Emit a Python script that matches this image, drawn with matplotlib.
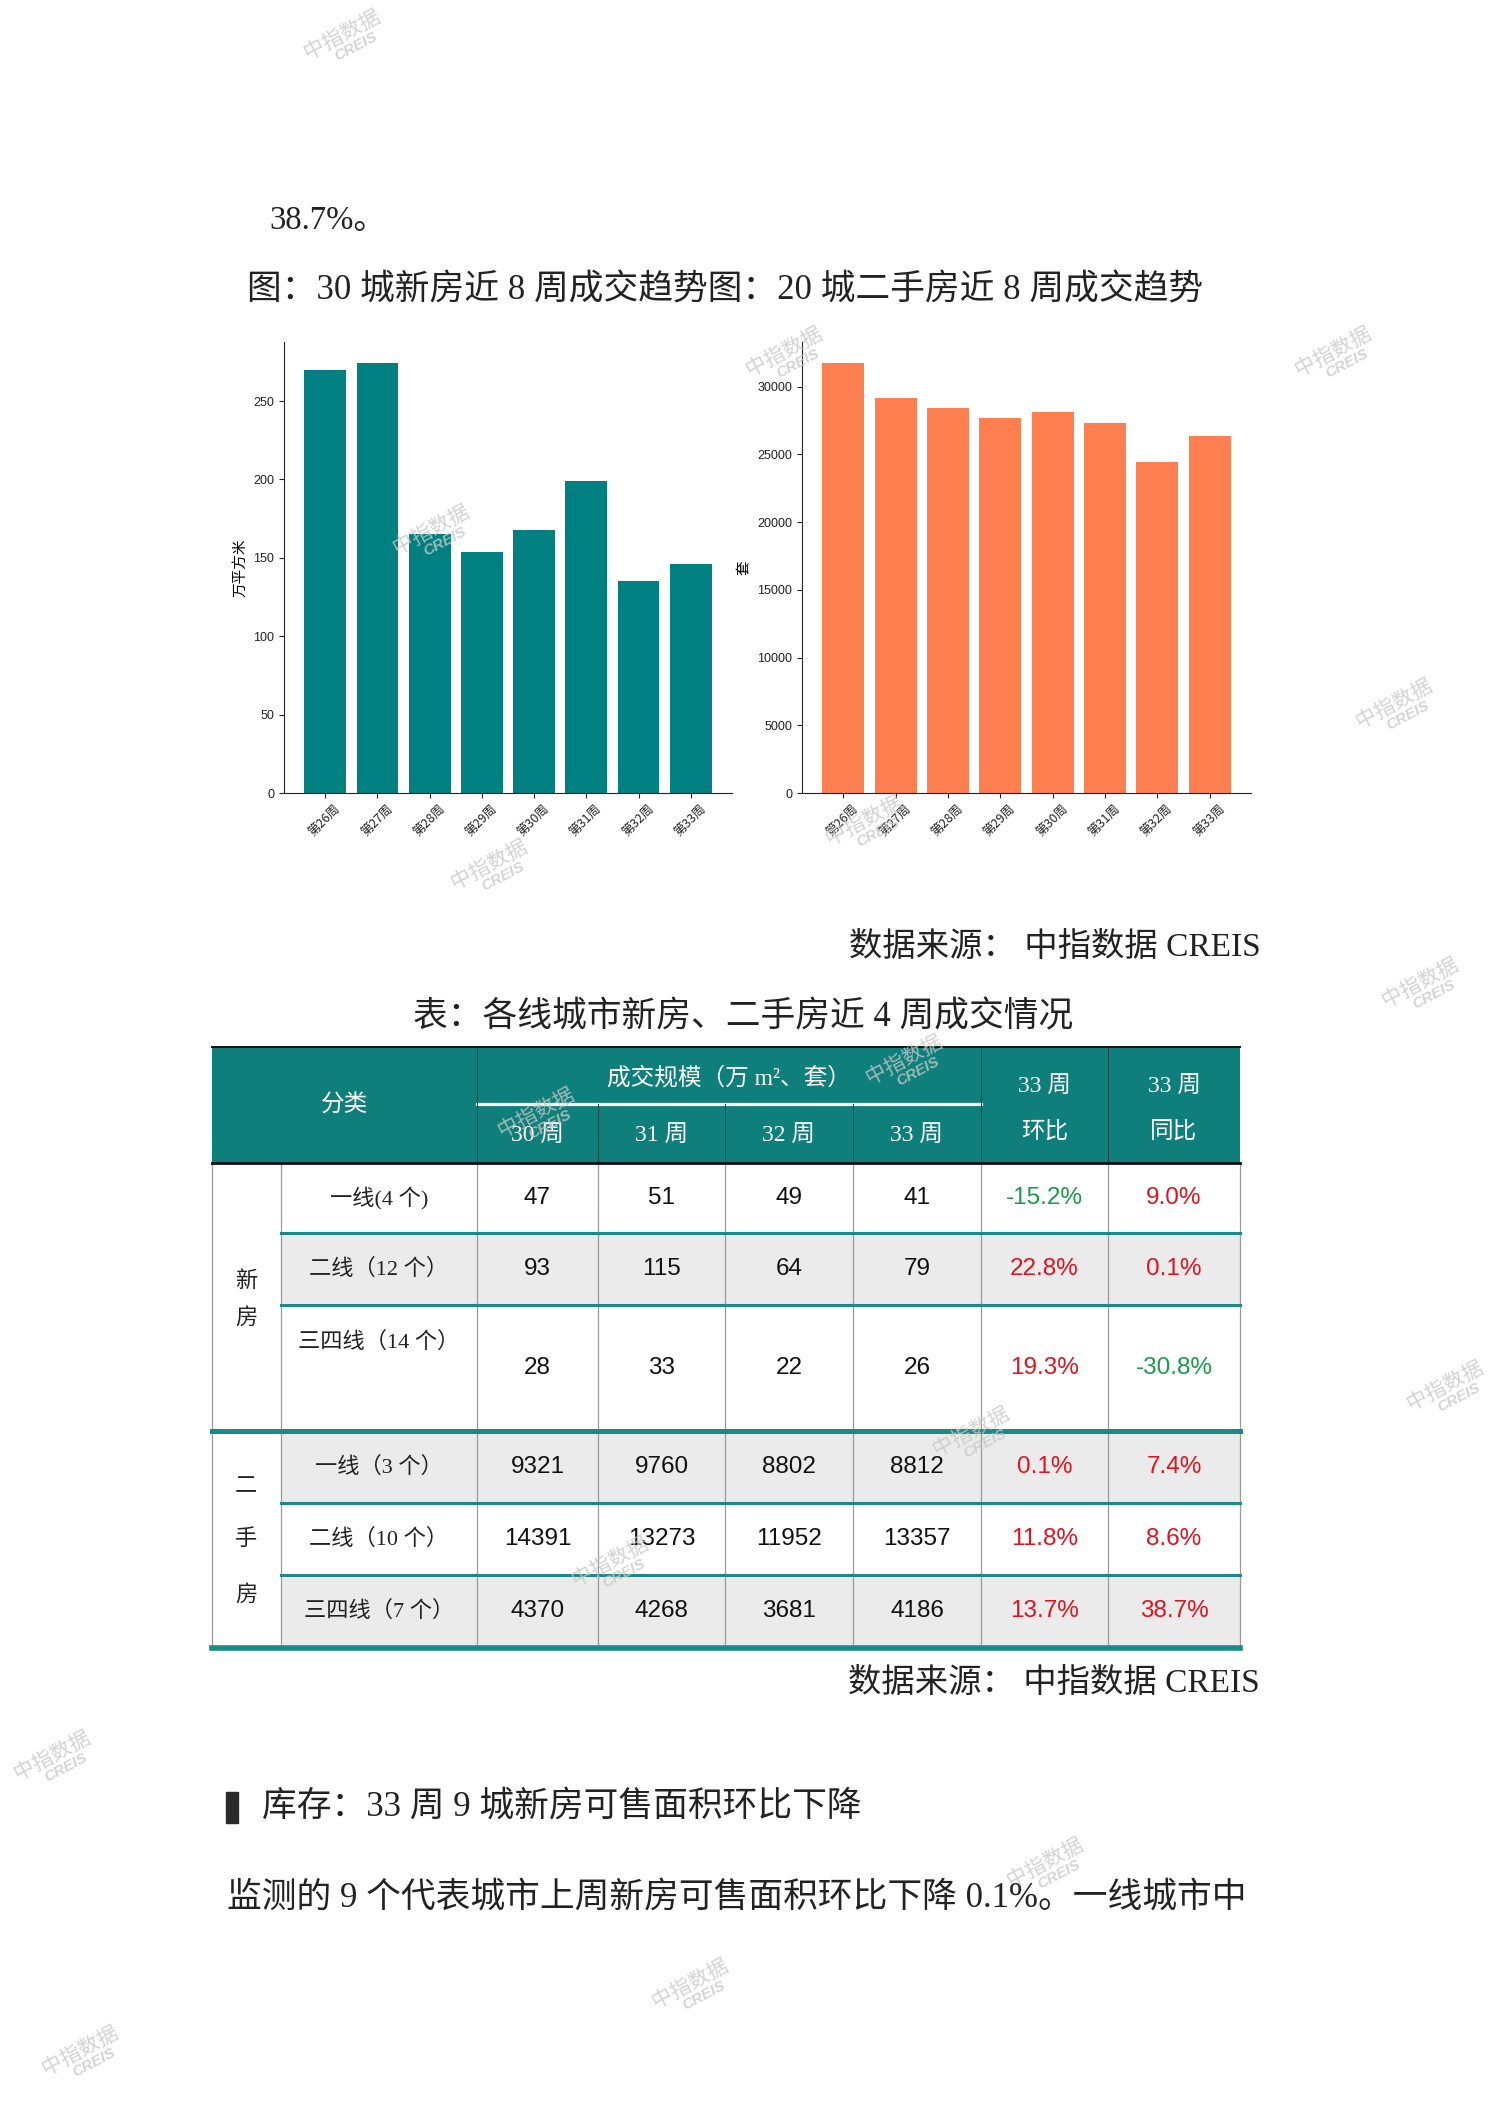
import matplotlib
matplotlib.use('Agg')
import matplotlib.pyplot as plt
from matplotlib.patches import Rectangle

plt.rcParams['font.family'] = ['Liberation Serif', 'Noto Sans CJK SC', 'DejaVu Sans']

# chart data
weeks = ['第26周', '第27周', '第28周', '第29周', '第30周', '第31周', '第32周', '第33周']
new_area = [270, 274, 165, 154, 168, 199, 135, 146]          # 万平方米
resale_units = [31700, 29140, 28390, 27670, 28082, 27301, 24435, 26355]  # 套

# table data
tab_weeks = ['30 周', '31 周', '32 周', '33 周']
new_labels = ['一线(4 个)', '二线（12 个）', '三四线（14 个）']
new_vals = [[47, 51, 49, 41], [93, 115, 64, 79], [28, 33, 22, 26]]
new_mom = ['-15.2%', '22.8%', '19.3%']
new_yoy = ['9.0%', '0.1%', '-30.8%']
resale_labels = ['一线（3 个）', '二线（10 个）', '三四线（7 个）']
resale_vals = [[9321, 9760, 8802, 8812], [14391, 13273, 11952, 13357], [4370, 4268, 3681, 4186]]
resale_mom = ['0.1%', '11.8%', '13.7%']
resale_yoy = ['7.4%', '8.6%', '38.7%']

W, H = 1488, 2104
fig = plt.figure(figsize=(W / 100, H / 100), dpi=100)

def box(l, t, r, b):
    return [l / W, 1 - b / H, (r - l) / W, (b - t) / H]

sans = ['Liberation Sans', 'Noto Sans CJK SC']
cjk = ['Noto Sans CJK SC', 'DejaVu Sans']

ax1 = fig.add_axes(box(284, 342, 732, 793))
ax1.bar(weeks, new_area, width=0.8, color='#008080')
ax2 = fig.add_axes(box(802, 342, 1251, 793))
ax2.bar(weeks, resale_units, width=0.8, color='#ff7f50')
for ax, lab in ((ax1, '万平方米'), (ax2, '套')):
    ax.spines[['top', 'right']].set_visible(False)
    ax.spines[['left', 'bottom']].set_color('#222222')
    ax.tick_params(labelsize=9, length=3.5, color='#222222', labelcolor='#222222')
    for t in ax.get_yticklabels():
        t.set_family(sans)
    for t in ax.get_xticklabels():
        t.set_family(cjk)
        t.set_rotation(45)
    ax.set_ylabel(lab, fontsize=10.5, family=cjk, labelpad=4)

# page layer in pixel coordinates
pg = fig.add_axes([0, 0, 1, 1], zorder=5)
pg.set_xlim(0, W)
pg.set_ylim(H, 0)
pg.axis('off')

body = dict(fontsize=25, color='#222222', va='center')
pg.text(269, 221, '38.7%。', ha='left', **dict(body, fontsize=23.5))
pg.text(247, 291, '图：30 城新房近 8 周成交趋势图：20 城二手房近 8 周成交趋势', ha='left', **body)
pg.text(1261, 947, '数据来源： 中指数据 CREIS', ha='right', **dict(body, fontsize=24))
pg.text(743, 1018, '表：各线城市新房、二手房近 4 周成交情况', ha='center', **body)
pg.text(1260, 1683, '数据来源： 中指数据 CREIS', ha='right', **dict(body, fontsize=24))
pg.add_patch(Rectangle((226, 1792), 12, 31, color='#2a2a2a'))
pg.text(262, 1807, '库存：33 周 9 城新房可售面积环比下降', ha='left', **body)
pg.text(227, 1898, '监测的 9 个代表城市上周新房可售面积环比下降 0.1%。一线城市中', ha='left', **body)

# table
teal = '#0f7f7c'
line_teal = '#1b8a87'
xs = [212, 281, 477, 598, 725, 853, 981, 1108, 1240]
row_y = [1163, 1233, 1305, 1431, 1503, 1575, 1648]
pg.add_patch(Rectangle((212, 1047), 1028, 116, color=teal, lw=0))
for i in (1, 3, 5):
    pg.add_patch(Rectangle((281, row_y[i]), 959, row_y[i + 1] - row_y[i], color='#ebebeb', lw=0))
pg.plot([477, 981], [1104, 1104], color='white', lw=2.3)
for x in (477, 981, 1108):
    pg.plot([x, x], [1047, 1163], color='#1d4b4a', lw=0.8)
for x in xs[3:6]:
    pg.plot([x, x], [1104, 1163], color='#1d4b4a', lw=0.8)
for x in xs:
    pg.plot([x, x], [1163, 1648], color='#9a9a9a', lw=0.9)
pg.plot([212, 1240], [1047, 1047], color='#111111', lw=1.4)
pg.plot([212, 1240], [1163, 1163], color='#111111', lw=2.0)
for y in (1233, 1305, 1503, 1575):
    pg.plot([281, 1240], [y, y], color=line_teal, lw=2.2)
pg.plot([212, 1240], [1431, 1431], color=line_teal, lw=3.6)
pg.plot([212, 1240], [1648, 1648], color=line_teal, lw=4.0)

hdr = dict(color='white', fontsize=17, ha='center', va='center')
pg.text(345, 1106, '分类', **hdr)
pg.text(729, 1078, '成交规模（万 m²、套）', **hdr)
ccx = [(xs[i] + xs[i + 1]) / 2 for i in range(len(xs) - 1)]
for j, w in enumerate(tab_weeks):
    pg.text(ccx[2 + j], 1136, w, **hdr)
pg.text(ccx[6], 1087, '33 周', **hdr)
pg.text(ccx[6], 1132, '环比', **hdr)
pg.text(ccx[7], 1087, '33 周', **hdr)
pg.text(ccx[7], 1132, '同比', **hdr)

def pct_color(s):
    return '#1a9a4a' if s.startswith('-') else '#e0141e'

def draw_rows(labels, vals, mom, yoy, ys, label_ys):
    for r in range(3):
        pg.text(ccx[1], label_ys[r], labels[r], color='#222222', fontsize=16, ha='center', va='center')
        for j in range(4):
            pg.text(ccx[2 + j], ys[r], str(vals[r][j]), color='#111111', fontsize=17.5,
                    ha='center', va='center', family=sans)
        pg.text(ccx[6], ys[r], mom[r], color=pct_color(mom[r]), fontsize=17.5, ha='center', va='center', family=sans)
        pg.text(ccx[7], ys[r], yoy[r], color=pct_color(yoy[r]), fontsize=17.5, ha='center', va='center', family=sans)

draw_rows(new_labels, new_vals, new_mom, new_yoy, [1198, 1269, 1368], [1198, 1269, 1342])
draw_rows(resale_labels, resale_vals, resale_mom, resale_yoy, [1467, 1539, 1611], [1467, 1539, 1611])
for ch, y in zip('新房', (1282, 1318)):
    pg.text(246, y, ch, fontsize=16, color='#222222', ha='center', va='center')
for ch, y in zip('二手房', (1488, 1540, 1595)):
    pg.text(246, y, ch, fontsize=16, color='#222222', ha='center', va='center')

# watermarks (kept fully inside the page)
wm_pos = [(342, 34), (784, 351), (1333, 351), (431, 529), (1394, 703), (489, 864), (864, 820),
          (1420, 982), (904, 1059), (536, 1112), (971, 1431), (610, 1561), (52, 1755),
          (1045, 1862), (690, 1983), (80, 2050), (1445, 1385)]
for x, y in wm_pos:
    pg.text(x, y, '中指数据', fontsize=15, color='#c8c8c8', alpha=0.8, rotation=28,
            ha='center', va='center', family=cjk)
    pg.text(x + 14, y + 13, 'CREIS', fontsize=11, color='#c8c8c8', alpha=0.8, rotation=28,
            ha='center', va='center', family=sans, fontweight='bold', style='italic')

fig.savefig('out.png', dpi=100)
